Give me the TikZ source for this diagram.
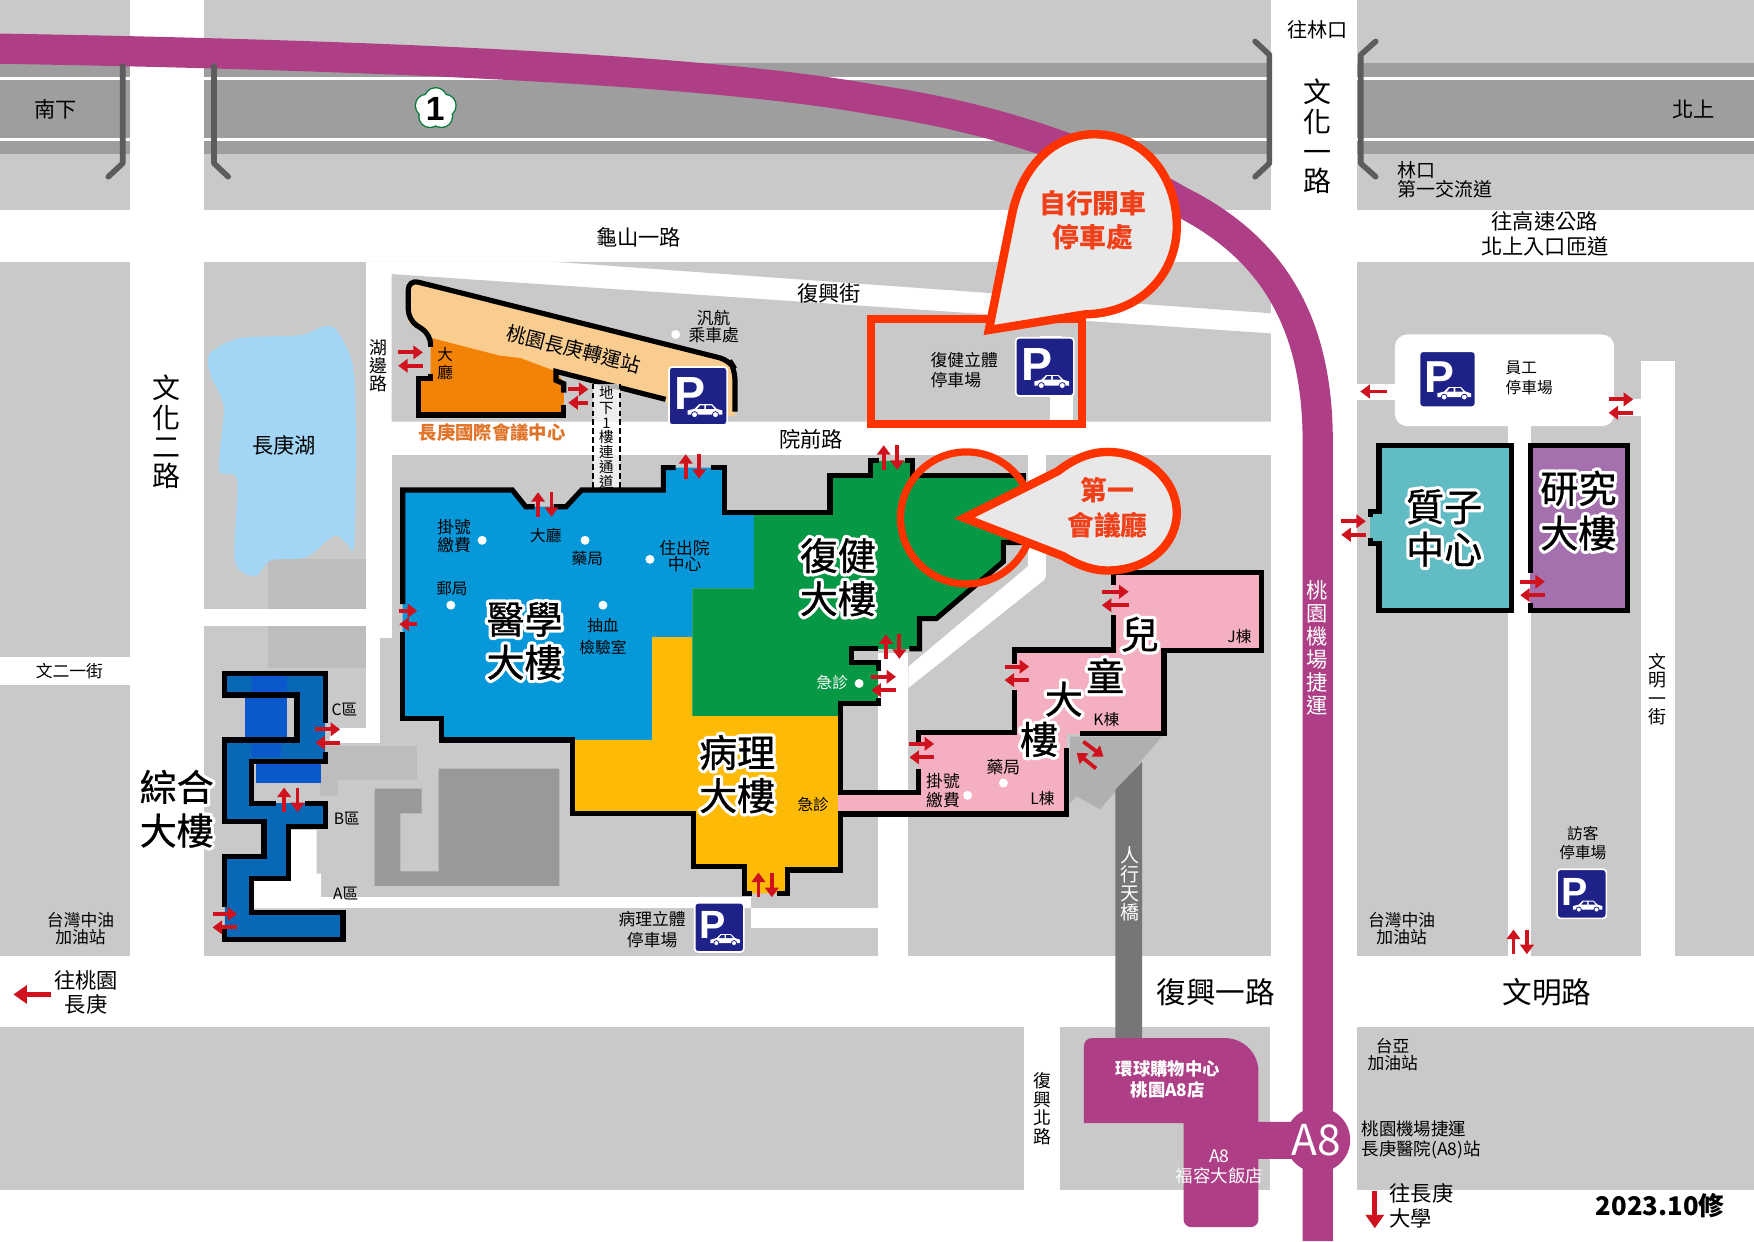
\documentclass[tikz,border=0pt]{standalone}
\usepackage{fontspec}
\usepackage{xcolor}
\setmainfont{Noto Sans CJK TC}
\newfontfamily\signfont{Liberation Sans}
\usepackage{tikz}
\usetikzlibrary{arrows.meta}
\definecolor{blockgray}{HTML}{C9C9C9}
\definecolor{pavegray}{HTML}{BDBDBD}
\definecolor{lanegray}{HTML}{9E9E9E}
\definecolor{annexgray}{HTML}{999999}
\definecolor{ramagray}{HTML}{B0B0B0}
\definecolor{bridgegray}{HTML}{767676}
\definecolor{bracketgray}{HTML}{5D5B5C}
\definecolor{metro}{HTML}{AE3F86}
\definecolor{lake}{HTML}{A3D6F5}
\definecolor{medblue}{HTML}{0798D9}
\definecolor{rehabgreen}{HTML}{069845}
\definecolor{pathyellow}{HTML}{FDBB08}
\definecolor{kidspink}{HTML}{F4B0C0}
\definecolor{peach}{HTML}{F9CD8F}
\definecolor{confnaranja}{HTML}{F28306}
\definecolor{confname}{HTML}{E0742A}
\definecolor{genblue}{HTML}{0868B8}
\definecolor{genbright}{HTML}{0A58CC}
\definecolor{teal}{HTML}{61BCC4}
\definecolor{research}{HTML}{A470AE}
\definecolor{doorred}{HTML}{D0121E}
\definecolor{calloutred}{HTML}{FF3300}
\definecolor{callouttext}{HTML}{F0401A}
\definecolor{calloutfill}{HTML}{E8E8E8}
\definecolor{signblue}{HTML}{1E2288}
\tikzset{
	txt/.style 2 args={font=\fontsize{#1}{#2}\selectfont, align=center, inner sep=0pt},
	outline/.style={draw=black, line width=4.6pt, line join=miter},
	bracket/.style={draw=bracketgray, line width=5pt, line cap=round, line join=round},
	doorarrow/.style={draw=doorred, fill=doorred, line width=3.4pt, -{Triangle[length=8.5pt,width=12pt]}},
	bigarrow/.style={draw=doorred, fill=doorred, line width=4.5pt, -{Triangle[length=12pt,width=16pt]}},
	callout/.style={draw=calloutred, fill=calloutfill, line width=7.5pt, line join=miter},
	spot/.style={fill=white},
}
% white rim under a title
\newcommand{\halo}[1]{\leavevmode\special{pdf:code 1 j 1 J}\rlap{\textcolor{white}{\addfontfeature{FakeBold=18}#1}}{\addfontfeature{FakeBold=0.8}#1}}
\newcommand{\doorh}[3]{
	\draw[doorarrow] (#1-#3,#2-6) -- (#1+#3,#2-6);
	\draw[doorarrow] (#1+#3,#2+6) -- (#1-#3,#2+6);
}
\newcommand{\doorv}[3]{
	\draw[doorarrow] (#1-6,#2+#3) -- (#1-6,#2-#3);
	\draw[doorarrow] (#1+6,#2-#3) -- (#1+6,#2+#3);
}
\newcommand{\parksign}[4]{
	\begin{scope}[shift={(#2,#3)}, scale=#4, transform shape]
		\draw[draw=white, fill=signblue, line width=1.5pt, rounded corners=3pt] (-25,-25) rectangle (25,25);
		\node[inner sep=0pt, text=white, font=\fontsize{40}{40}\signfont\bfseries] (#1) at (-7,-2) {P};
		\fill[white] (-9,16) -- (-9,12.5) -- (-3,11) -- (1,7) -- (12,7) -- (16,11) -- (21,12.5) -- (21,16) -- cycle;
		\fill[signblue] (-0.5,11) -- (2,8) -- (5.5,8) -- (5.5,11) -- cycle;
		\fill[signblue] (7,11) -- (7,8) -- (11.5,8) -- (14,11) -- cycle;
		\draw[draw=signblue, fill=white, line width=0.7pt] (-3,16) circle (2.6);
		\draw[draw=signblue, fill=white, line width=0.7pt] (15,16) circle (2.6);
	\end{scope}
}
\begin{document}
\begin{tikzpicture}[x=1pt, y=-1pt]
	\useasboundingbox (0,0) rectangle (1568,1109.4);
	\fill[white] (0,0) rectangle (1568,1109.4);
	% blocks
	\fill[blockgray] (0,0) rectangle (116,187.5);
	\fill[blockgray] (182,0) rectangle (1136,187.5);
	\fill[blockgray] (1213,0) rectangle (1568,187.5);
	\fill[blockgray] (0,234) rectangle (116,587);
	\fill[blockgray] (0,612) rectangle (116,855);
	\fill[blockgray] (182,234) rectangle (327,544);
	\fill[blockgray] (182,560) rectangle (327,855);
	\fill[blockgray] (327,664) rectangle (350,855);
	\fill[blockgray] (340,570) rectangle (350,664);
	\fill[blockgray] (327,234) -- (495,234) -- (1136,280) -- (1136,234) -- cycle;
	\fill[blockgray] (350,245) -- (1136,298) -- (1136,377) -- (350,377) -- cycle;
	\fill[blockgray] (350,407) rectangle (1136,855);
	\fill[blockgray] (1213,234) rectangle (1568,855);
	\fill[blockgray] (0,918) rectangle (915,1064);
	\fill[blockgray] (948,918) rectangle (1135,1064);
	\fill[blockgray] (1213,918) rectangle (1568,1064);
	% highway
	\fill[lanegray] (0,56.5) rectangle (116,138);
	\fill[lanegray] (182,56.5) rectangle (1136,138);
	\fill[lanegray] (1213,56.5) rectangle (1568,138);
	\foreach \y in {69.8,124.3} {
		\fill[white] (0,\y-1.3) rectangle (1568,\y+1.3);
	}
	% small roads
	\fill[white] (930,300) rectangle (949,340);
	\fill[white] (939,340) rectangle (959,376);
	\fill[white] (919,407) rectangle (935,516);
	\fill[white] (918,507) -- (935,490) -- (934,518) -- (812,615) -- (812,596) -- cycle;
	\fill[white] (785,584) rectangle (812,855);
	\fill[white] (287,802) rectangle (671,812);
	\fill[white] (671,812) rectangle (785,830);
	\fill[white] (259,742) -- (283,742) -- (283,781) -- (287,781) -- (287,812) -- (227,812) -- (227,781) -- (259,781) -- cycle;
	\fill[white] (295,651) rectangle (340,664);
	\fill[white] (1247,299) [rounded corners=11pt] -- (1443,299) -- (1443,381) -- (1247,381) -- cycle;
	\fill[white] (1213,343) rectangle (1250,358);
	\fill[white] (1440,357) rectangle (1467,372);
	\fill[white] (1348,378) rectangle (1369,855);
	\fill[white] (1467,323) rectangle (1497,855);
	% annexes
	\fill[pavegray] (240,500) rectangle (327,544);
	\fill[pavegray] (240,560) rectangle (327,597);
	\fill[pavegray] (286,667) rectangle (373,697);
	\fill[pavegray] (286,697) rectangle (302,712);
	\fill[annexgray] (335,705) -- (377,705) -- (377,727) -- (358,727) -- (358,779) -- (392,779) -- (392,687) -- (500,687) -- (500,792) -- (335,792) -- cycle;
	\fill[ramagray] (956.6,658.6) -- (1038.5,658.6) -- (983.4,723.5) -- (962.5,712) -- (956.6,718) -- cycle;
	\fill[bridgegray] (997,706) -- (1021,681) -- (1021,935) -- (997,935) -- cycle;
	\fill[lake] plot[smooth cycle, tension=0.5] coordinates {(187,317) (214,302.5) (269,299.5) (290,291.5) (303,298) (317,340) (317,483) (310,486) (299,478.5) (274,498) (242,501) (228,515) (210,501) (212,429) (196,420) (200,364) (189,337)};
	% metro line
	\draw[metro, line width=27pt] (0,43.5) .. controls (200,47) and (600,56) .. (780,89) .. controls (860,101) and (960,125) .. (1055,180) .. controls (1135,220) and (1178,285) .. (1178,395) -- (1178,1109.4);
	\fill[metro] (1178,1019) circle (29);
	\fill[metro, rounded corners=7pt] (969,1004) -- (969,928) -- (1080,928) [rounded corners=30pt] -- (1125,928) [rounded corners=0pt] -- (1125,1003) -- (1160,1003) -- (1160,1036) -- (1125,1036) [rounded corners=7pt] -- (1125,1097) -- (1058,1097) [rounded corners=0pt] -- (1058,1004) -- cycle;
	% conference centre and transit station
	\fill[peach] (372,250) -- (652,322) -- (657,330) -- (657,372) -- (600,372) -- (595,357) -- (497,332) -- (385,302) -- (365,288) -- (365,258) -- cycle;
	\fill[confnaranja] (385,302) -- (447,318) -- (465,320) -- (497,332) -- (504,342) -- (504,371) -- (374,371) -- (374,338) -- (385,338) -- cycle;
	\draw[outline, rounded corners=9pt] (385,310) -- (385,299) -- (365,286) -- (365,250) -- (652,322) -- (657,330) -- (657,368);
	\draw[outline] (595,357) -- (497,332) -- (497,340) -- (504,343) -- (504,351);
	\draw[outline] (504,362) -- (504,371) -- (374,371) -- (374,338) -- (385,338) -- (385,334);
	\fill[white, opacity=0.7] (530,343) rectangle (554,437);
	\draw[black, dash pattern=on 5pt off 3pt, line width=1.5pt] (530,343) -- (530,437);
	\draw[black, dash pattern=on 5pt off 3pt, line width=1.5pt] (554,343) -- (554,437);
	% hospital fills
	\fill[medblue] (360,438) -- (458,438) -- (470,453) -- (506,453) -- (520,438) -- (593,438) -- (593,418) -- (648,418) -- (648,458.5) -- (674,458.5) -- (674,526) -- (619,526) -- (619,569.5) -- (583,569.5) -- (583,661.5) -- (394,661.5) -- (394,642) -- (360,642) -- cycle;
	\fill[pathyellow] (583,569.5) -- (619,569.5) -- (619,640) -- (751,640) -- (751,777.7) -- (703.7,777.7) -- (703.7,798.6) -- (665.8,798.6) -- (665.8,774.7) -- (620,774.7) -- (620,727) -- (512,727) -- (512,661.5) -- (583,661.5) -- cycle;
	\fill[rehabgreen] (674,458.5) -- (742,458.5) -- (742,425) -- (778,425) -- (778,412) -- (816,412) -- (816,425) -- (915,425) -- (915,485) -- (897,485) -- (897,502) -- (837,553) -- (822,553) -- (822,580) -- (761,580) -- (761,592) -- (785,592) -- (785,629) -- (751,629) -- (751,640) -- (619,640) -- (619,526) -- (674,526) -- cycle;
	\fill[kidspink] (749,708.6) -- (821,708.6) -- (821,655) -- (907,655) -- (907,581) -- (995,581) -- (995,512) -- (1128,512) -- (1128,582) -- (1041,582) -- (1041,656) -- (953.6,656) -- (953.6,728) -- (749,728) -- cycle;
	\fill[genblue] (201,602) -- (290.6,602) -- (290.6,681) -- (224.8,681) -- (224.8,718) -- (290.6,718) -- (290.6,739) -- (258,739) -- (258,785) -- (224.8,785) -- (224.8,816) -- (306.6,816) -- (306.6,839.7) -- (201,839.7) -- (201,766) -- (236,766) -- (236,734.5) -- (201,734.5) -- (201,661.5) -- (265.5,661.5) -- (265.5,621.3) -- (201,621.3) -- cycle;
	\fill[genbright] (225,604) rectangle (257,619);
	\fill[genbright] (219,624) rectangle (257,659);
	\fill[genbright] (225,664) rectangle (251,677);
	\fill[genbright] (229,683) rectangle (287,700);
	\fill[teal] (1232.8,398.6) rectangle (1351.4,546);
	\fill[teal] (1225,459) rectangle (1233,486);
	\fill[research] (1367.8,398.6) rectangle (1454.8,546);
	% hospital outlines, open at the doors
	\draw[outline] (360,540) -- (360,438) -- (458,438) -- (470,453) -- (478,453);
	\draw[outline] (495,453) -- (506,453) -- (520,438) -- (593,438) -- (593,418) -- (604,418);
	\draw[outline] (636,418) -- (648,418) -- (648,458.5) -- (742,458.5) -- (742,425) -- (778,425) -- (778,412) -- (786,412);
	\draw[outline] (809,412) -- (816,412) -- (816,425) -- (915,425) -- (915,440);
	\draw[outline] (915,485) -- (897,485) -- (897,502) -- (837,553) -- (822,553) -- (822,580) -- (813,580);
	\draw[outline] (785,580) -- (761,580) -- (761,592) -- (785,592) -- (785,600);
	\draw[outline] (785,624) -- (785,629) -- (751,629) -- (751,708.6) -- (821,708.6) -- (821,687.7);
	\draw[outline] (821,664) -- (821,655) -- (907,655) -- (907,617);
	\draw[outline] (907,594) -- (907,581) -- (995.3,581) -- (995.3,549.8);
	\draw[outline] (995.3,523) -- (995.3,512) -- (1128,512) -- (1128,581.7) -- (1040.6,581.7) -- (1040.6,655.6) -- (965.5,655.6);
	\draw[outline] (953.6,669) -- (953.6,727.7) -- (751,727.7) -- (751,777.7) -- (703.7,777.7) -- (703.7,798.6) -- (695,798.6);
	\draw[outline] (672,798.6) -- (665.8,798.6) -- (665.8,774.7) -- (620,774.7) -- (620,727) -- (512,727) -- (512,661.5) -- (394.4,661.5) -- (394.4,642) -- (360,642) -- (360,565);
	\draw[outline] (290.6,646) -- (290.6,602) -- (201,602) -- (201,621.3) -- (265.5,621.3) -- (265.5,661.5) -- (201,661.5) -- (201,734.5) -- (236,734.5) -- (236,766) -- (201,766) -- (201,810.5);
	\draw[outline] (201,829) -- (201,839.7) -- (306.6,839.7) -- (306.6,816) -- (224.8,816) -- (224.8,785) -- (258,785) -- (258,739) -- (290.6,739) -- (290.6,718) -- (272.6,718);
	\draw[outline] (246.7,718) -- (224.8,718) -- (224.8,681) -- (290.6,681) -- (290.6,672);
	\draw[outline] (1225,462) -- (1225,457.5) -- (1232.8,457.5) -- (1232.8,398.6) -- (1351.4,398.6) -- (1351.4,546) -- (1232.8,546) -- (1232.8,486) -- (1225,486) -- (1225,481);
	\draw[outline] (1367.8,512.5) -- (1367.8,398.6) -- (1454.8,398.6) -- (1454.8,546) -- (1367.8,546) -- (1367.8,539);
	% highway brackets
	\draw[bracket] (109.7,59) -- (109.7,146) -- (96.8,158);
	\draw[bracket] (191.3,59) -- (191.3,146) -- (204,158);
	\draw[bracket] (1122,37) -- (1134.8,49) -- (1134.8,146) -- (1122,158);
	\draw[bracket] (1229.8,37) -- (1216.4,49) -- (1216.4,146) -- (1229.8,158);
	% freeway shield
	\foreach \a in {90,162,234,306,18} {
		\draw[draw=rehabgreen!80!black, line width=2.4pt] (389.5,97)++(\a:-8.5) circle (9.5);
	}
	\foreach \a in {90,162,234,306,18} {
		\fill[white] (389.5,97)++(\a:-8.5) circle (9.5);
	}
	\node[inner sep=0pt, font=\fontsize{30}{30}\signfont\bfseries] (lblOne) at (389,97) {1};
	% door arrows
	\doorh{367}{321}{11}
	\doorh{517}{354}{9}
	\doorh{365}{552}{8}
	\doorh{293}{658}{11}
	\doorh{201}{823}{11}
	\doorh{790}{611}{11}
	\doorh{909}{602}{11}
	\doorh{824}{671}{11}
	\doorh{997}{535}{12}
	\doorh{1210}{472}{11}
	\doorh{1370}{526}{11}
	\doorh{1449}{363}{11}
	\doorv{487}{451}{11}
	\doorv{619}{417}{11}
	\doorv{796}{409}{11}
	\doorv{798}{578}{11}
	\doorv{684}{791}{11}
	\doorv{260}{715}{11}
	\doorv{1359}{842}{11}
	\draw[doorarrow] (968.5,663) -- (986.4,676.4);
	\draw[doorarrow] (979.8,687) -- (962.5,673);
	\draw[doorarrow] (1240,350) -- (1216,350);
	\draw[bigarrow] (46,889) -- (12,889);
	\draw[bigarrow] (1229,1065) -- (1229,1098);
	% parking signs
	\parksign{parkStation}{624}{354}{1.04}
	\parksign{parkRehab}{934}{328}{1.04}
	\parksign{parkStaff}{1294}{339}{1.0}
	\parksign{parkPath}{643}{829}{0.88}
	\parksign{parkVisitor}{1414}{799}{0.88}
	% callouts
	\draw[calloutred, line width=7.5pt, line join=miter] (778.5,285) rectangle (967,379);
	\draw[calloutred, line width=6.5pt] (864,463) circle (59);
	\draw[callout] (884,295) -- (905,190) .. controls (915,145) and (945,120) .. (978,120) .. controls (1025,120) and (1052,160) .. (1052,202) .. controls (1052,245) and (1020,280) .. (970,281) -- cycle;
	\draw[callout] (862,463) -- (946,421) .. controls (960,410) and (975,404) .. (990,404) .. controls (1025,404) and (1052,430) .. (1052,458) .. controls (1052,488) and (1025,510) .. (990,510) .. controls (975,510) and (962,504) .. (950,497) -- cycle;
	\node[txt={24}{30}, text=callouttext, font=\fontsize{24}{30}\bfseries\selectfont] (lblDrive) at (977,197) {自行開車\\停車處};
	\node[txt={24}{30}, text=callouttext, font=\fontsize{24}{31}\bfseries\selectfont] (lblHall) at (990,454) {第一\\會議廳};
	% dots
	\foreach \x/\y in {604/299, 431/483, 523/483, 581/500, 403/541, 539/541, 768/611, 865/711, 897/700} {
		\fill[spot] (\x,\y) circle (4);
	}
	% labels
	\node[txt={18}{20}] (lblToLinkou) at (1178,27) {往林口};
	\node[txt={19}{20}] (lblSouth) at (50,98) {南下};
	\node[txt={19}{20}] (lblNorth) at (1514,98) {北上};
	\node[txt={17}{17}, align=left] (lblLinkou) at (1292,161) {林口\\第一交流道};
	\node[txt={19}{22}] (lblRamp) at (1381,209) {往高速公路\\北上入口匝道};
	\node[txt={19}{20}] (lblGuishan) at (571,212) {龜山一路};
	\node[txt={19}{20}] (lblFuxingSt) at (741,262) {復興街};
	\node[txt={25}{26.5}] (lblWenhua1) at (1178,122) {文\\化\\一\\路};
	\node[txt={25}{26}] (lblWenhua2) at (149,386) {文\\化\\二\\路};
	\node[txt={16}{16.5}] (lblLakeside) at (338,327) {湖\\邊\\路};
	\node[txt={15}{16}] (lblFanhang) at (638,292) {汎航\\乘車處};
	\node[txt={17.5}{20}, rotate=-14.2] (lblStation) at (513,312) {桃園長庚轉運站};
	\node[txt={14}{16}] (lblLobbyConf) at (398,325) {大\\廳};
	\node[txt={16.4}{18}, text=confname, font=\fontsize{16.4}{18}\bfseries\selectfont] (lblConf) at (440,387) {長庚國際會議中心};
	\node[txt={19}{20}] (lblLake) at (254,398) {長庚湖};
	\node[txt={19}{20}] (lblYuanqian) at (725,393) {院前路};
	\node[txt={13}{13.2}] (lblTunnel) at (542,391) {地\\下\\1\\樓\\連\\通\\道};
	\node[txt={15}{18}, align=left] (lblParkRehab) at (862,331) {復健立體\\停車場};
	\node[txt={15}{16}] (lblRegA) at (406,479) {掛號\\繳費};
	\node[txt={14}{16}] (lblLobbyMed) at (488,479) {大廳};
	\node[txt={14}{16}] (lblPharmA) at (525,499) {藥局};
	\node[txt={15}{14}] (lblAdmit) at (612,497) {住出院\\中心};
	\node[txt={14}{16}] (lblPost) at (404,526) {郵局};
	\node[txt={14}{19}] (lblBlood) at (539,569) {抽血\\檢驗室};
	\node[txt={34}{38.5}] (lblMed) at (469,573) {\halo{醫學}\\\halo{大樓}};
	\node[txt={34}{38.5}] (lblRehab) at (749,516) {\halo{復健}\\\halo{大樓}};
	\node[txt={34}{38.5}] (lblPath) at (659,692) {\halo{病理}\\\halo{大樓}};
	\node[txt={34}{38}] (lblProton) at (1291,472) {\halo{質子}\\\halo{中心}};
	\node[txt={34}{40}] (lblResearch) at (1411,456.5) {\halo{研究}\\\halo{大樓}};
	\node[txt={33}{39}] (lblGeneral) at (158,723) {\halo{綜合}\\\halo{大樓}};
	\node[txt={34}{36}] (lblKidsA) at (1019,567) {\halo{兒}};
	\node[txt={34}{36}] (lblKidsB) at (988,604) {\halo{童}};
	\node[txt={34}{36}] (lblKidsC) at (951,625) {\halo{大}};
	\node[txt={34}{36}] (lblKidsD) at (929,661) {\halo{樓}};
	\node[txt={14}{16}] (lblJ) at (1108,569) {J棟};
	\node[txt={14}{16}] (lblK) at (989,643) {K棟};
	\node[txt={14}{16}] (lblL) at (932,714) {L棟};
	\node[txt={15}{16}] (lblPharmB) at (897,686) {藥局};
	\node[txt={15}{17}] (lblRegB) at (843,707) {掛號\\繳費};
	\node[txt={14}{16}] (lblErPath) at (727,719) {急診};
	\node[txt={14}{16}, text=white] (lblErRehab) at (744,610) {急診};
	\node[txt={14}{16}] (lblC) at (308,634) {C區};
	\node[txt={14}{16}] (lblB) at (310,732) {B區};
	\node[txt={14}{16}] (lblA) at (309,799) {A區};
	\node[txt={15}{16}] (lblWen2) at (62,600) {文二一街};
	\node[txt={15}{15}] (lblCpcA) at (72,830) {台灣中油\\加油站};
	\node[txt={15}{15}] (lblCpcB) at (1253,830) {台灣中油\\加油站};
	\node[txt={15}{15}] (lblTaiya) at (1245,943) {台亞\\加油站};
	\node[txt={14}{17}] (lblParkVisitor) at (1415,754) {訪客\\停車場};
	\node[txt={15}{18}] (lblParkPath) at (583,831) {病理立體\\停車場};
	\node[txt={14}{18}, align=left] (lblParkStaff) at (1367,338) {員工\\停車場};
	\node[txt={19}{21}] (lblToTaoyuan) at (77,887) {往桃園\\長庚};
	\node[txt={26.5}{28}] (lblFuxing1) at (1087,887) {復興一路};
	\node[txt={26.5}{28}] (lblWenming) at (1383,887) {文明路};
	\node[txt={16}{16.5}] (lblWenming1) at (1482,616) {文\\明\\一\\街};
	\node[txt={17}{17}, text=white] (lblBridge) at (1010,790) {人\\行\\天\\橋};
	\node[txt={16}{16.5}] (lblFuxingN) at (932,991) {復\\興\\北\\路};
	\node[txt={19}{20.5}, text=white] (lblMetro) at (1177,579) {桃\\園\\機\\場\\捷\\運};
	\node[txt={15}{18}, text=white, font=\fontsize{15.5}{18}\bfseries\selectfont] (lblMall) at (1044,965) {環球購物中心\\桃園A8店};
	\node[txt={15.6}{18}, text=white] (lblHotel) at (1090,1043) {A8\\福容大飯店};
	\node[txt={38}{40}, text=white] (lblStop) at (1177,1019) {A8};
	\node[txt={15.6}{17.5}, align=left, anchor=west] (lblMetroStop) at (1217,1019) {桃園機場捷運\\長庚醫院(A8)站};
	\node[txt={19}{22}, align=left, anchor=west] (lblToUni) at (1242,1078) {往長庚\\大學};
	\node[txt={23}{24}, font=\fontsize{23}{24}\bfseries\selectfont] (lblDate) at (1484,1078) {2023.10修};
\end{tikzpicture}
\end{document}
